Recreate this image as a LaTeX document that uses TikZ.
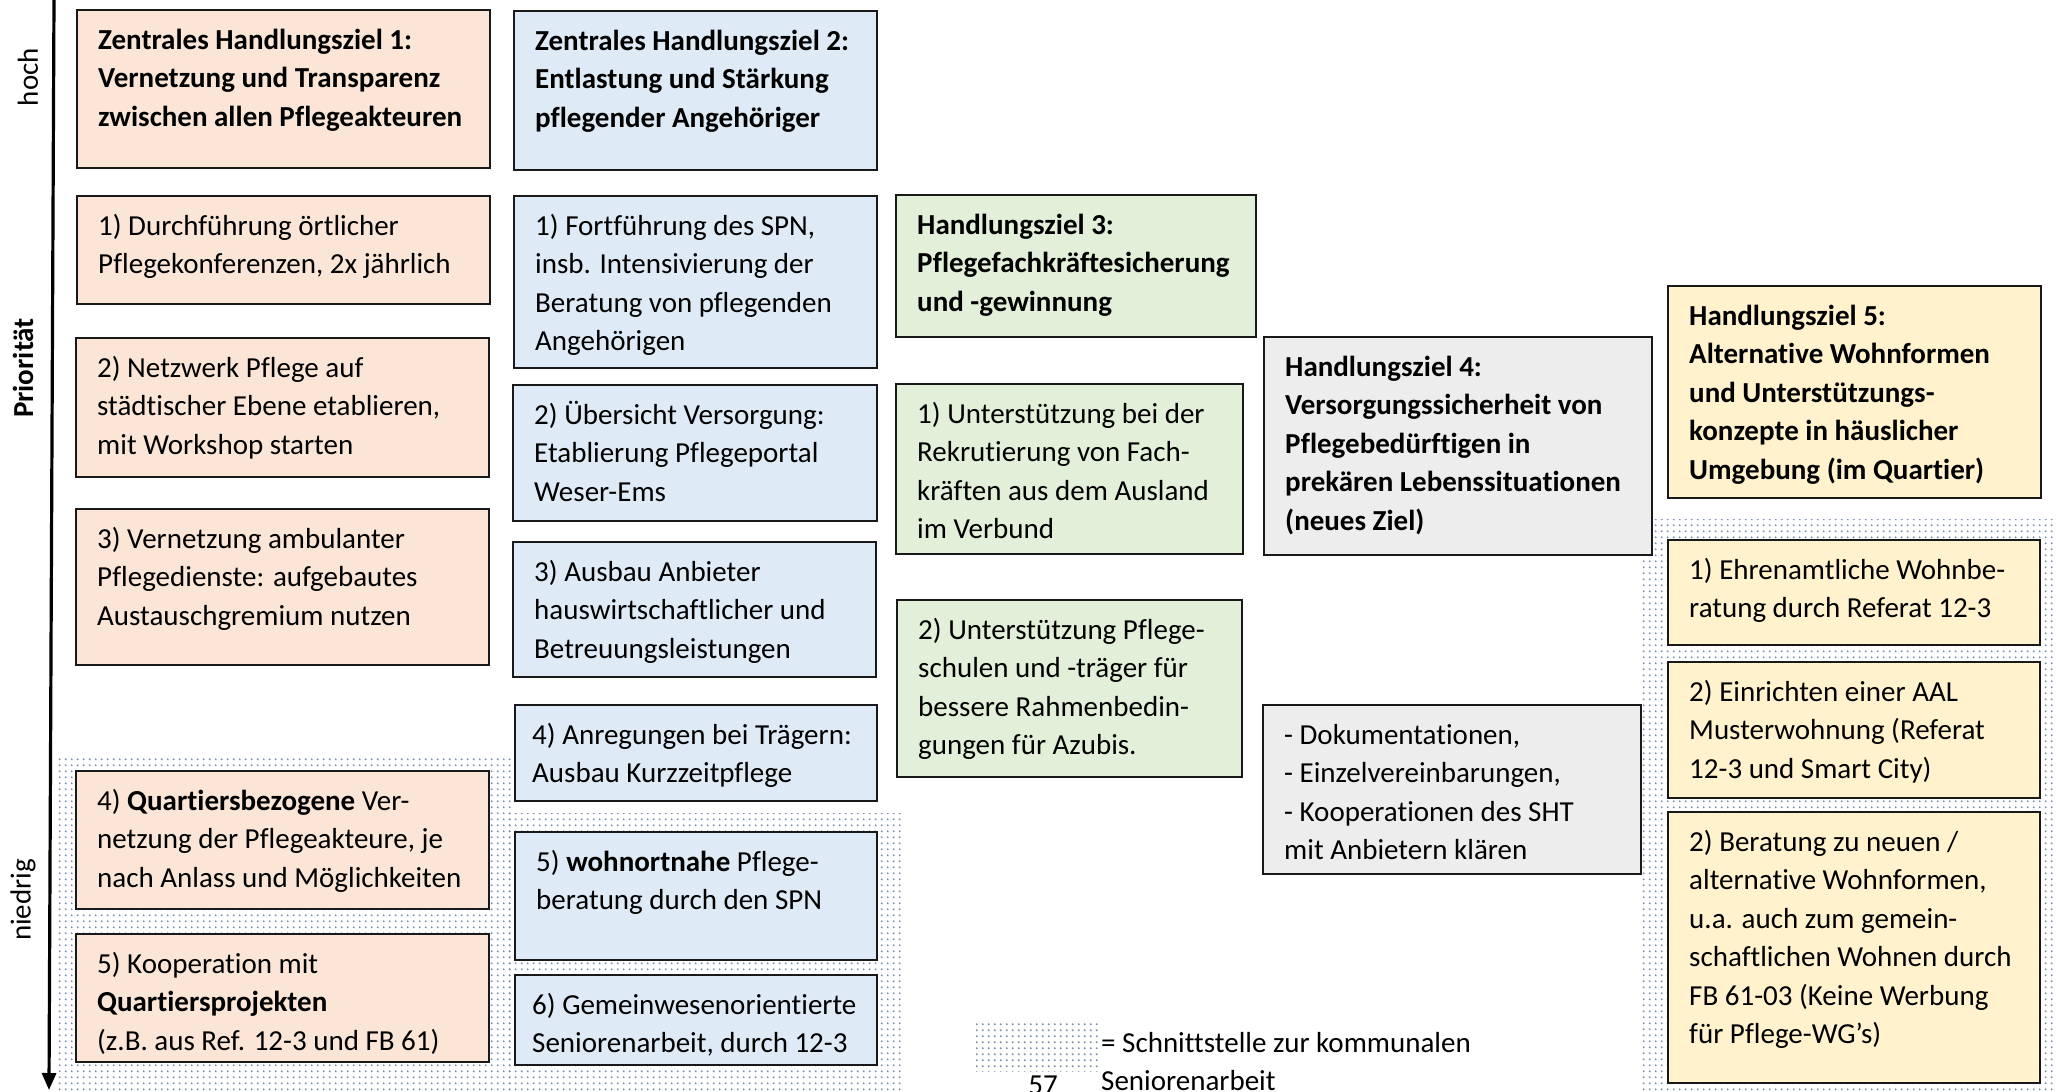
\documentclass[tikz,border=0pt]{standalone}
\usepackage{fontspec}
\setmainfont{Carlito}[Ligatures={TeX,NoCommon}]
\usetikzlibrary{arrows.meta,patterns.meta}

\definecolor{ziel eins}{HTML}{FBE5D6}
\definecolor{ziel zwei}{HTML}{DEEBF7}
\definecolor{ziel drei}{HTML}{E2F0D9}
\definecolor{ziel vier}{HTML}{EDEDED}
\definecolor{ziel fuenf}{HTML}{FFF2CC}
\colorlet{rand}{black!90}
\definecolor{punkt}{HTML}{7F93B3}

\def\schnittA{(58,758) rectangle (513,1092)}
\def\schnittB{(505,813) rectangle (904,1092)}
\def\schnittC{(1641,519) rectangle (2056,1092)}
\def\legendenfeld{(976,1023) rectangle (1099,1071)}

\pgfdeclarepattern{
  name=punkte,
  type=uncolored,
  bottom left={\pgfpoint{0pt}{0pt}},
  top right={\pgfpoint{5.7pt}{5.7pt}},
  tile size={\pgfpoint{5.7pt}{5.7pt}},
  code={\pgfpathcircle{\pgfpoint{2.85pt}{2.85pt}}{1.1pt}\pgfusepath{fill}}
}

\tikzset{kasten/.style={draw=rand, line width=2.4pt, anchor=north west, inner sep=0pt, outer sep=0pt},
	inhalt/.style={anchor=north west, inner sep=0pt, align=left, font={\fontsize{29}{38.5}\selectfont}},
	titel/.style={font={\fontsize{29}{38.5}\selectfont\bfseries}},
	schnitt/.style={pattern=punkte, pattern color=punkt},
	achse/.style={line width=3.2pt, -{Triangle[width=14pt,length=17pt]}}}

\newcommand{\kasten}[8][]{%
  \node[kasten, fill=#3, minimum width=#6pt, minimum height=#7pt] (#2) at (#4,#5) {};
  \node[inhalt, #1] (#2-text) at ([shift={(21pt,-12pt)}]#2.north west) {\strut #8};
}

\begin{document}
\begin{tikzpicture}[x=1pt, y=-1pt]
		\fill[white] (0,0) rectangle (2056,1092);
		\useasboundingbox (0,0) rectangle (2056,1092);
		\fill[schnitt] \schnittA;
		\fill[schnitt] \schnittB;
		\fill[schnitt] \schnittC;

		\coordinate (oben) at (54,0);
		\coordinate (unten) at (49,1090);
		\draw[achse] (oben) -- (unten);
		\node[inhalt, anchor=center, rotate=90] (hoch) at (28,77) {hoch};
		\node[titel, inner sep=0pt, rotate=90] (prio) at (23,368) {Priorität};
		\node[inhalt, anchor=center, rotate=90] (niedrig) at (23,900) {niedrig};

		\kasten[titel]{z1}{ziel eins}{77}{10}{413}{158}{Zentrales Handlungsziel 1:\\Vernetzung und Transparenz\\zwischen allen Pflegeakteuren}
		\kasten{m11}{ziel eins}{77}{196}{413}{108}{1) Durchführung örtlicher\\Pflegekonferenzen, 2x jährlich}
		\kasten{m12}{ziel eins}{76}{338}{413}{139}{2) Netzwerk Pflege auf\\städtischer Ebene etablieren,\\mit Workshop starten}
		\kasten{m13}{ziel eins}{76}{509}{413}{156}{3) Vernetzung ambulanter\\Pflegedienste: aufgebautes\\Austauschgremium nutzen}
		\kasten{m14}{ziel eins}{76}{771}{413}{138}{4) \textbf{Quartiersbezogene} Ver-\\netzung der Pflegeakteure, je\\nach Anlass und Möglichkeiten}
		\kasten{m15}{ziel eins}{76}{934}{413}{128}{5) Kooperation mit\\\textbf{Quartiersprojekten}\\(z.B. aus Ref. 12-3 und FB 61)}

		\kasten[titel]{z2}{ziel zwei}{514}{11}{363}{159}{Zentrales Handlungsziel 2:\\Entlastung und Stärkung\\pflegender Angehöriger}
		\kasten{m21}{ziel zwei}{514}{196}{363}{172}{1) Fortführung des SPN,\\insb. Intensivierung der\\Beratung von pflegenden\\Angehörigen}
		\kasten{m22}{ziel zwei}{513}{385}{364}{136}{2) Übersicht Versorgung:\\Etablierung Pflegeportal\\Weser-Ems}
		\kasten{m23}{ziel zwei}{513}{542}{363}{135}{3) Ausbau Anbieter\\hauswirtschaftlicher und\\Betreuungsleistungen}
		\kasten[xshift=-4pt]{m24}{ziel zwei}{515}{705}{362}{96}{4) Anregungen bei Trägern:\\Ausbau Kurzzeitpflege}
		\kasten{m25}{ziel zwei}{515}{832}{362}{128}{5) \textbf{wohnortnahe} Pflege-\\beratung durch den SPN}
		\kasten[xshift=-4pt]{m26}{ziel zwei}{515}{975}{362}{90}{6) Gemeinwesenorientierte\\Seniorenarbeit, durch 12-3}

		\kasten[titel]{z3}{ziel drei}{896}{195}{360}{142}{Handlungsziel 3:\\Pflegefachkräftesicherung\\und -gewinnung}
		\kasten{m31}{ziel drei}{896}{384}{347}{170}{1) Unterstützung bei der\\Rekrutierung von Fach-\\kräften aus dem Ausland\\im Verbund}
		\kasten{m32}{ziel drei}{897}{600}{345}{177}{2) Unterstützung Pflege-\\schulen und -träger für\\bessere Rahmenbedin-\\gungen für Azubis.}

		\kasten[titel]{z4}{ziel vier}{1264}{337}{388}{218}{Handlungsziel 4:\\Versorgungssicherheit von\\Pflegebedürftigen in\\prekären Lebenssituationen\\(neues Ziel)}
		\kasten{m41}{ziel vier}{1263}{705}{378}{169}{- Dokumentationen,\\- Einzelvereinbarungen,\\- Kooperationen des SHT\\mit Anbietern klären}

		\kasten[titel]{z5}{ziel fuenf}{1668}{286}{373}{212}{Handlungsziel 5:\\Alternative Wohnformen\\und Unterstützungs-\\konzepte in häuslicher\\Umgebung (im Quartier)}
		\kasten{m51}{ziel fuenf}{1668}{540}{372}{105}{1) Ehrenamtliche Wohnbe-\\ratung durch Referat 12-3}
		\kasten{m52}{ziel fuenf}{1668}{662}{372}{136}{2) Einrichten einer AAL\\Musterwohnung (Referat\\12-3 und Smart City)}
		\kasten{m53}{ziel fuenf}{1668}{812}{372}{271}{2) Beratung zu neuen /\\alternative Wohnformen,\\u.a. auch zum gemein-\\schaftlichen Wohnen durch\\FB 61-03 (Keine Werbung\\für Pflege-WG’s)}

		\fill[schnitt] \legendenfeld;
		\node[inhalt] (legende) at (1101,1025) {\strut= Schnittstelle zur kommunalen\\Seniorenarbeit};
		\node[inhalt, anchor=base] (seite) at (1043,1094) {57};
\end{tikzpicture}
\end{document}
